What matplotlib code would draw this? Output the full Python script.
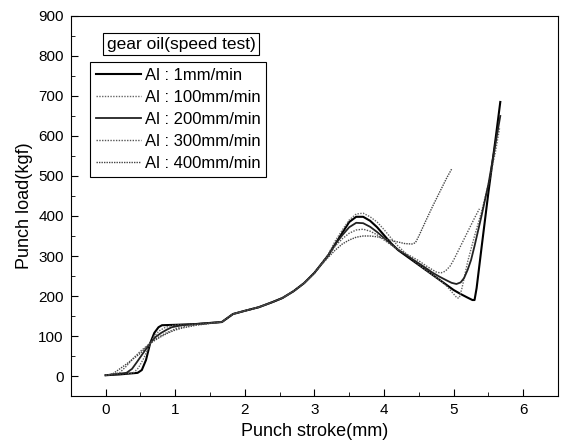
import matplotlib
matplotlib.use("Agg")
import matplotlib.pyplot as plt
from matplotlib.ticker import MultipleLocator

plt.rcParams['font.family'] = ['Liberation Sans', 'DejaVu Sans']

labels = ['Al : 1mm/min', 'Al : 100mm/min', 'Al : 200mm/min', 'Al : 300mm/min', 'Al : 400mm/min']

# punch stroke (mm) / punch load (kgf)
x_1 = [0, 0.2, 0.46, 0.52, 0.58, 0.64, 0.7, 0.76, 0.81, 1.0, 1.3, 1.67, 1.75, 1.83, 2.0, 2.2,
       2.4, 2.54, 2.7, 2.85, 3.0, 3.1, 3.2, 3.3, 3.4, 3.5, 3.6, 3.7, 3.8, 3.9, 4.0, 4.1, 4.2,
       4.4, 4.6, 4.8, 5.0, 5.1, 5.2, 5.27, 5.3, 5.33, 5.4, 5.5, 5.6, 5.67]
y_1 = [2, 4, 8, 15, 40, 82, 108, 122, 127, 128, 130, 135, 145, 155, 163, 172,
       185, 195, 212, 232, 258, 280, 302, 330, 358, 385, 398, 398, 388, 372, 352, 332, 315,
       290, 265, 240, 215, 205, 196, 190, 190, 220, 320, 460, 590, 685]

x_100 = [0, 0.4, 0.47, 0.55, 0.64, 0.7, 0.77, 0.85, 0.95, 1.05, 1.3, 1.67, 1.75, 1.83, 2.0,
         2.2, 2.4, 2.54, 2.7, 2.85, 3.0, 3.1, 3.2, 3.3, 3.4, 3.5, 3.6, 3.7, 3.8, 3.9, 4.0,
         4.1, 4.2, 4.4, 4.6, 4.8, 4.9, 5.0, 5.05, 5.08, 5.12, 5.2, 5.3, 5.4, 5.5, 5.6, 5.66]
y_100 = [2, 8, 20, 45, 82, 100, 113, 121, 126, 128, 130, 135, 145, 155, 163,
         172, 185, 195, 212, 232, 258, 280, 305, 338, 365, 390, 405, 407, 398, 385, 366,
         345, 325, 292, 265, 240, 225, 205, 195, 195, 220, 285, 350, 410, 480, 560, 620]

x_200 = [0, 0.3, 0.38, 0.45, 0.55, 0.64, 0.72, 0.8, 0.88, 0.95, 1.1, 1.3, 1.67, 1.75, 1.83,
         2.0, 2.2, 2.4, 2.54, 2.7, 2.85, 3.0, 3.1, 3.2, 3.3, 3.4, 3.5, 3.6, 3.7, 3.8, 3.9,
         4.0, 4.1, 4.2, 4.4, 4.6, 4.7, 4.8, 4.9, 4.97, 5.04, 5.1, 5.15, 5.2, 5.25, 5.3, 5.4,
         5.5, 5.6, 5.67]
y_200 = [2, 8, 18, 35, 60, 82, 98, 108, 116, 122, 127, 130, 135, 145, 155,
         163, 172, 185, 195, 212, 232, 258, 280, 302, 330, 352, 372, 383, 382, 373, 360,
         345, 330, 316, 293, 270, 258, 248, 239, 233, 230, 234, 245, 265, 290, 325, 400,
         480, 580, 650]

x_300 = [0, 0.2, 0.3, 0.4, 0.5, 0.64, 0.75, 0.85, 1.0, 1.2, 1.67, 1.75, 1.83, 2.0, 2.2,
         2.4, 2.54, 2.7, 2.85, 3.0, 3.1, 3.2, 3.3, 3.4, 3.5, 3.6, 3.7, 3.8, 3.9, 4.0, 4.1,
         4.2, 4.3, 4.4, 4.5, 4.6, 4.7, 4.76, 4.82, 4.88, 4.95, 5.0, 5.1, 5.2, 5.3, 5.37]
y_300 = [2, 8, 25, 45, 62, 82, 96, 106, 118, 127, 135, 145, 155, 163, 172,
         185, 195, 212, 232, 258, 280, 302, 325, 343, 357, 365, 367, 362, 353, 340, 328,
         316, 307, 298, 288, 276, 265, 259, 258, 262, 275, 290, 325, 360, 395, 418]

x_400 = [0, 0.1, 0.3, 0.5, 0.64, 0.78, 0.9, 1.0, 1.1, 1.3, 1.67, 1.75, 1.83, 2.0, 2.2,
         2.4, 2.54, 2.7, 2.85, 3.0, 3.1, 3.2, 3.3, 3.4, 3.5, 3.6, 3.7, 3.8, 3.9, 4.0, 4.1,
         4.2, 4.3, 4.4, 4.45, 4.5, 4.6, 4.7, 4.8, 4.9, 4.97]
y_400 = [2, 5, 30, 57, 82, 97, 108, 115, 120, 127, 135, 145, 155, 163, 172,
         185, 195, 212, 232, 258, 278, 297, 315, 330, 340, 347, 350, 350, 348, 344, 339,
         335, 331, 330, 333, 350, 388, 425, 460, 495, 517]

series = [(x_1, y_1), (x_100, y_100), (x_200, y_200), (x_300, y_300), (x_400, y_400)]
styles = [dict(color='black', lw=1.5, ls='-'),
          dict(color='#666666', lw=1.0, ls=(0, (1, 1))),
          dict(color='#222222', lw=1.3, ls='-'),
          dict(color='#555555', lw=1.0, ls=(0, (1, 1))),
          dict(color='#444444', lw=1.0, ls=(0, (1, 0.8)))]

fig = plt.figure(figsize=(5.62, 4.43), dpi=100)
ax = fig.add_axes([0.126, 0.106, 0.867, 0.858])

for (xs, ys), st, lab in zip(series, styles, labels):
    ax.plot(xs, ys, label=lab, **st)

ax.set_xlim(-0.5, 6.5)
ax.set_ylim(-50, 900)
ax.xaxis.set_major_locator(MultipleLocator(1))
ax.xaxis.set_minor_locator(MultipleLocator(0.5))
ax.yaxis.set_major_locator(MultipleLocator(100))
ax.yaxis.set_minor_locator(MultipleLocator(50))
ax.tick_params(which='both', direction='in', labelsize=11, top=False, right=False)
ax.tick_params(which='major', length=5, pad=5)
ax.tick_params(which='minor', length=3)
ax.set_xlabel('Punch stroke(mm)', fontsize=13, labelpad=4)
ax.set_ylabel('Punch load(kgf)', fontsize=13, labelpad=4)

ax.text(0.226, 0.925, 'gear oil(speed test)', transform=ax.transAxes, ha='center', va='center',
        fontsize=12.5, bbox=dict(boxstyle='square,pad=0.2', fc='white', ec='black', lw=0.8))

leg = ax.legend(loc='upper left', bbox_to_anchor=(0.039, 0.879), borderaxespad=0,
                fontsize=12, fancybox=False, edgecolor='black', framealpha=1,
                handlelength=2.7, handletextpad=0.25, labelspacing=0.42, borderpad=0.35)
leg.get_frame().set_linewidth(0.8)

fig.savefig('out.png', dpi=100)
